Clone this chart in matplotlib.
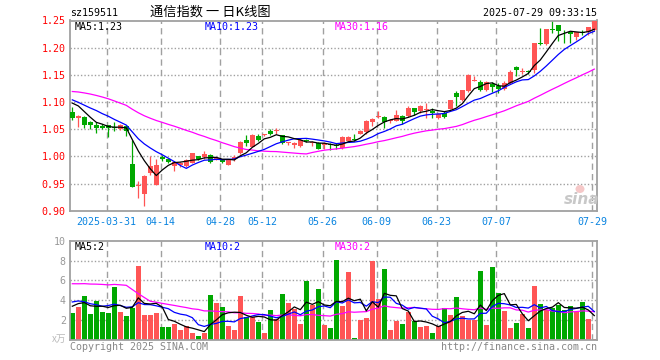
import numpy as np
import pandas as pd
import matplotlib
matplotlib.use("Agg")
import matplotlib.pyplot as plt
from matplotlib.patches import Ellipse

# ---- data ----
tick_idx = [6, 15, 25, 32, 42, 51, 61, 71, 87]
tick_lbl = ['2025-03-31', '04-14', '04-28', '05-12', '05-26', '06-09', '06-23', '07-07', '07-29']

# bars before the window (only used for the moving averages)
prior_close = [1.10, 1.11, 1.12, 1.13, 1.14, 1.15, 1.17, 1.18, 1.17, 1.16,
               1.14, 1.13, 1.12, 1.11, 1.10, 1.10, 1.09, 1.10, 1.11, 1.11,
               1.12, 1.11, 1.11, 1.10, 1.11, 1.10, 1.11, 1.11, 1.10]
prior_vol = [3.5, 4.0, 3.8, 4.2, 3.6, 4.1, 3.9, 4.0, 3.9,
             16.0, 20.0, 14.0, 14.0,
             5.5, 4.8, 4.5, 4.6, 4.4, 4.5, 4.4,
             2.3, 5.2, 4.6, 4.9, 4.3,
             2.0, 3.9, 4.2, 4.17]

opens = [1.082, 1.071, 1.073, 1.064, 1.058, 1.0555, 1.057, 1.053, 1.0505, 1.056,
         0.986, 0.9457, 0.930, 0.969, 0.948, 0.998, 0.995, 0.982, 0.984, 0.982,
         0.988, 1.000, 0.999, 1.003, 0.995, 0.994, 0.985, 0.995, 1.006, 1.030,
         1.018, 1.038, 1.040, 1.046, 1.047, 1.039, 1.024, 1.021, 1.019, 1.030,
         1.024, 1.025, 1.020, 1.022, 1.020, 1.0153, 1.0276, 1.032, 1.0417, 1.044,
         1.0638, 1.0724, 1.0724, 1.065, 1.0656, 1.0736, 1.0736, 1.089, 1.083, 1.0855,
         1.084, 1.0706, 1.080, 1.088, 1.1166, 1.103, 1.1196, 1.139, 1.136, 1.1227,
         1.133, 1.130, 1.124, 1.135, 1.1643, 1.156, 1.157, 1.158, 1.209, 1.207,
         1.234, 1.242, 1.229, 1.228, 1.219, 1.2285, 1.228, 1.2316]
highs = [1.090, 1.076, 1.074, 1.065, 1.063, 1.060, 1.057, 1.063, 1.060, 1.057,
         1.030, 0.954, 0.966, 1.001, 0.9945, 1.003, 0.996, 0.990, 0.990, 0.995,
         1.007, 1.001, 1.009, 1.004, 0.999, 0.995, 0.995, 1.002, 1.028, 1.040,
         1.041, 1.041, 1.042, 1.051, 1.052, 1.040, 1.027, 1.026, 1.034, 1.032,
         1.028, 1.026, 1.026, 1.0245, 1.0245, 1.038, 1.037, 1.042, 1.049, 1.066,
         1.0705, 1.083, 1.0736, 1.0687, 1.0859, 1.0767, 1.092, 1.089, 1.095, 1.098,
         1.089, 1.080, 1.083, 1.104, 1.1196, 1.1227, 1.1514, 1.148, 1.141, 1.138,
         1.136, 1.135, 1.138, 1.158, 1.167, 1.162, 1.158, 1.2085, 1.236, 1.2342,
         1.250, 1.242, 1.233, 1.229, 1.228, 1.233, 1.2385, 1.250]
lows = [1.066, 1.054, 1.053, 1.050, 1.043, 1.051, 1.036, 1.046, 1.048, 1.037,
        0.943, 0.924, 0.908, 0.966, 0.947, 0.992, 0.987, 0.973, 0.980, 0.980,
        0.987, 0.993, 0.996, 0.987, 0.993, 0.987, 0.984, 0.991, 1.004, 1.019,
        1.017, 1.028, 1.037, 1.040, 1.042, 1.022, 1.020, 1.015, 1.018, 1.026,
        1.019, 1.013, 1.013, 1.012, 1.013, 1.0135, 1.0258, 1.0276, 1.041, 1.0417,
        1.0552, 1.0705, 1.052, 1.0613, 1.0644, 1.060, 1.0724, 1.0767, 1.080, 1.070,
        1.070, 1.069, 1.071, 1.087, 1.092, 1.101, 1.118, 1.138, 1.1196, 1.1196,
        1.118, 1.117, 1.122, 1.134, 1.148, 1.152, 1.152, 1.154, 1.205, 1.205,
        1.227, 1.213, 1.208, 1.208, 1.2147, 1.2236, 1.2235, 1.230]
closes = [1.070, 1.074, 1.058, 1.058, 1.053, 1.053, 1.0525, 1.052, 1.058, 1.047,
          0.9445, 0.948, 0.963, 0.983, 0.985, 0.996, 0.990, 0.989, 0.987, 0.993,
          1.006, 0.995, 1.005, 0.989, 0.996, 0.989, 0.994, 0.999, 1.027, 1.024,
          1.039, 1.030, 1.041, 1.041, 1.048, 1.024, 1.025, 1.025, 1.030, 1.028,
          1.025, 1.014, 1.024, 1.020, 1.019, 1.0356, 1.0356, 1.031, 1.0472, 1.0644,
          1.0687, 1.0736, 1.0626, 1.0663, 1.0767, 1.0644, 1.089, 1.0816, 1.093, 1.087,
          1.080, 1.0785, 1.073, 1.103, 1.1092, 1.1214, 1.150, 1.1398, 1.1227, 1.136,
          1.1275, 1.124, 1.135, 1.156, 1.1594, 1.1563, 1.156, 1.208, 1.207, 1.234,
          1.233, 1.230, 1.228, 1.226, 1.228, 1.2275, 1.238, 1.250]
volume = [2.73, 3.33, 4.4, 2.6, 3.9, 2.77, 2.7, 5.3, 2.8, 2.4,
          3.23, 7.5, 2.5, 2.5, 2.73, 1.3, 1.3, 1.6, 1.0, 1.4,
          0.67, 0.45, 0.7, 4.53, 3.77, 3.3, 1.4, 1.0, 4.4, 2.33,
          2.33, 1.83, 0.7, 3.0, 2.13, 4.63, 3.73, 3.17, 1.6, 5.93,
          3.5, 5.1, 1.5, 1.23, 8.1, 3.4, 6.83, 0.23, 2.0, 2.2,
          8.0, 4.1, 7.2, 1.0, 1.93, 1.6, 2.83, 1.93, 1.3, 1.4,
          0.67, 1.4, 3.27, 2.5, 4.3, 2.4, 2.0, 2.0, 6.9, 1.5,
          7.33, 4.73, 2.9, 1.23, 1.73, 2.6, 1.23, 5.43, 3.6, 3.0,
          3.27, 3.5, 3.0, 3.4, 2.83, 3.8, 2.1, 0.15]

RED = '#ff5555'
GREEN = '#00a800'
GRID = '#a0a0a0'
MONO = 'DejaVu Sans Mono'
FS = 7.2
plt.rcParams['lines.scale_dashes'] = False

n = len(closes)
x = np.arange(n)
o, h, l, c = map(np.array, (opens, highs, lows, closes))
up = c >= o
cols = np.where(up, RED, GREEN)

cs = pd.Series(prior_close + closes)
vs = pd.Series(prior_vol + volume)
k = len(prior_close)
ma = {p: cs.rolling(p).mean().values[k:] for p in (5, 10, 30)}
vma = {p: vs.rolling(p).mean().values[k:] for p in (5, 10, 30)}

W, H = 660, 360
fig = plt.figure(figsize=(W / 100, H / 100), dpi=100)
fig.patch.set_facecolor('white')

def box(x0, y0, x1, y1):
    return [x0 / W, 1 - y1 / H, (x1 - x0) / W, (y1 - y0) / H]

x_lo = (70 - 72.3) / 6
x_hi = (597 - 72.3) / 6

ax = fig.add_axes(box(70, 20.5, 597, 210.7))
axv = fig.add_axes(box(70, 240.7, 597, 340))

for a in (ax, axv):
    a.set_xlim(x_lo, x_hi)
    for s in a.spines.values():
        s.set_color(GRID)
        s.set_linewidth(1.3)
    a.tick_params(length=0)
    a.set_xticks([])
    for t in tick_idx:
        a.axvline(t - 0.3, color=GRID, lw=1.0, ls=(0, (4.5, 3)), zorder=0)

# price panel
ax.set_ylim(0.90, 1.25)
lv = [0.90, 0.95, 1.00, 1.05, 1.10, 1.15, 1.20, 1.25]
ax.set_yticks(lv)
ax.set_yticklabels(['%.2f' % v for v in lv], color='red', fontsize=FS, family=MONO)
ax.tick_params(axis='y', pad=3)
for v in lv[1:-1]:
    ax.axhline(v, color=GRID, lw=1.0, ls=(0, (1, 1.5)), zorder=0)

ax.vlines(x, l, h, colors=cols, lw=0.9, zorder=2)
body = np.maximum(np.abs(c - o), 0.0015)
ax.bar(x, body, bottom=np.minimum(o, c), width=0.8, color=cols, lw=0, zorder=3)

ax.plot(x, ma[30], color='#ff00ff', lw=0.9, zorder=4)
ax.plot(x, ma[10], color='#0000ff', lw=0.9, zorder=4)
ax.plot(x, ma[5], color='black', lw=0.9, zorder=4)

for t, s in zip(tick_idx, tick_lbl):
    ax.text(t - 0.3, 0.90 - 0.012, s, ha='center', va='top',
            color='#0a84e0', fontsize=FS, family=MONO)

fig.text(75 / W, 1 - 26.5 / H, 'MA5:%.2f' % ma[5][-1], color='black', fontsize=FS, family=MONO, va='center')
fig.text(205 / W, 1 - 26.5 / H, 'MA10:%.2f' % ma[10][-1], color='#0000ff', fontsize=FS, family=MONO, va='center')
fig.text(335 / W, 1 - 26.5 / H, 'MA30:%.2f' % ma[30][-1], color='#ff00ff', fontsize=FS, family=MONO, va='center')

# volume panel
axv.set_ylim(0, 10)
vt = [2, 4, 6, 8, 10]
axv.set_yticks(vt)
axv.set_yticklabels([str(v) for v in vt], color='#999999', fontsize=FS, family=MONO)
axv.tick_params(axis='y', pad=3)
for v in vt[:-1]:
    axv.axhline(v, color=GRID, lw=1.0, ls=(0, (1, 1.5)), zorder=0)
axv.bar(x, volume, width=0.8, color=cols, lw=0, zorder=2)
axv.plot(x, vma[30], color='#ff00ff', lw=0.9, zorder=4)
axv.plot(x, vma[10], color='#0000ff', lw=0.9, zorder=4)
axv.plot(x, vma[5], color='black', lw=0.9, zorder=4)

fig.text(75 / W, 1 - 246.5 / H, 'MA5:%d' % int(vma[5][-1]), color='black', fontsize=FS, family=MONO, va='center')
fig.text(205 / W, 1 - 246.5 / H, 'MA10:%d' % int(vma[10][-1]), color='#0000ff', fontsize=FS, family=MONO, va='center')
fig.text(335 / W, 1 - 246.5 / H, 'MA30:%d' % int(vma[30][-1]), color='#ff00ff', fontsize=FS, family=MONO, va='center')
fig.text(66 / W, 1 - 339 / H, 'x万', color='#bbbbbb', fontsize=7, ha='right', va='center',
         family=['Noto Sans CJK SC', 'DejaVu Sans'])

# header and footer
fig.text(70 / W, 1 - 13 / H, 'sz159511', fontsize=FS, family=MONO, va='center')
fig.text(150 / W, 1 - 12.5 / H, '通信指数 一 日K线图', fontsize=9.5, va='center',
         family=['Noto Sans CJK SC', 'DejaVu Sans'])
fig.text(597 / W, 1 - 13 / H, '2025-07-29 09:33:15', fontsize=FS, family=MONO, va='center', ha='right')
fig.text(70 / W, 1 - 347 / H, 'Copyright 2025 SINA.COM', fontsize=FS, family=MONO, va='center', color='#888888')
fig.text(597 / W, 1 - 347 / H, 'http://finance.sina.com.cn', fontsize=FS, family=MONO, va='center',
         ha='right', color='#888888')

# sina watermark
fig.add_artist(Ellipse((580 / W, 1 - 189 / H), 9 / W, 8 / H, color='#f5c8c8', lw=0))
fig.text(582 / W, 1 - 200 / H, 'sina', fontsize=11, style='italic', weight='bold', color='#c8c8c8',
         ha='center', va='center')

fig.savefig('out.png', dpi=100)
